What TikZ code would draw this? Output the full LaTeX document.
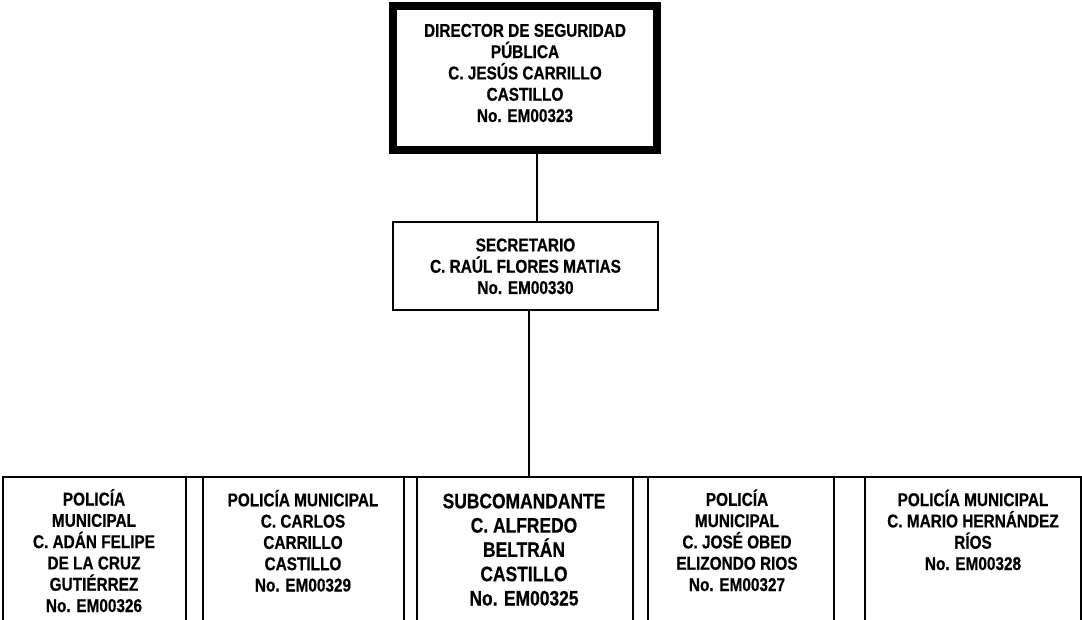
\documentclass[tikz,border=0pt]{standalone}
\usepackage{fontspec}
\setmainfont{Liberation Sans}[FakeStretch=0.83,BoldFeatures={FakeBold=0.6}]
\begin{document}
\begin{tikzpicture}[x=1pt,y=-1pt,
  box/.style={draw=black, line width=1.6pt, outer sep=0pt, inner sep=0pt},
  txt/.style={align=center, inner sep=0pt, font=\bfseries\fontsize{18.5}{21.3}\selectfont},
  bigtxt/.style={align=center, inner sep=0pt, font=\bfseries\fontsize{21}{24.3}\selectfont},
  conn/.style={draw=black, line width=1.5pt}]
\useasboundingbox (0,0) rectangle (1082,620);
% top
\node[box, line width=8pt, outer sep=4pt, minimum width=264pt, minimum height=144pt] (dir) at (525,78) {};
\node[txt, anchor=base] (dirt) at (525,122) {DIRECTOR DE SEGURIDAD\\PÚBLICA\\C. JESÚS CARRILLO\\CASTILLO\\No. EM00323};
% secretary
\node[box, line width=1.6pt, outer sep=0.8pt, minimum width=265pt, minimum height=88pt] (sec) at (525.5,266) {};
\node[txt, anchor=base] (sect) at (525.5,294) {SECRETARIO\\C. RAÚL FLORES MATIAS\\No. EM00330};
% bottom row
\node[box, minimum width=183pt, minimum height=223pt] (b1) at (94.5,588.5) {};
\node[box, minimum width=201pt, minimum height=223pt] (b2) at (303.5,588.5) {};
\node[box, minimum width=216pt, minimum height=223pt] (b3) at (525,588.5) {};
\node[box, minimum width=186pt, minimum height=223pt] (b4) at (741,588.5) {};
\node[box, minimum width=216pt, minimum height=223pt] (b5) at (973,588.5) {};
\draw[box] (b1.north west) -- (b5.north east);
\node[txt, anchor=base] (t1) at (94,612) {POLICÍA\\MUNICIPAL\\C. ADÁN FELIPE\\DE LA CRUZ\\GUTIÉRREZ\\No. EM00326};
\node[txt, anchor=base] (t2) at (303,591.5) {POLICÍA MUNICIPAL\\C. CARLOS\\CARRILLO\\CASTILLO\\No. EM00329};
\node[bigtxt, anchor=base] (t3) at (524,605.5) {SUBCOMANDANTE\\C. ALFREDO\\BELTRÁN\\CASTILLO\\No. EM00325};
\node[txt, anchor=base] (t4) at (737,591) {POLICÍA\\MUNICIPAL\\C. JOSÉ OBED\\ELIZONDO RIOS\\No. EM00327};
\node[txt, anchor=base] (t5) at (973,570) {POLICÍA MUNICIPAL\\C. MARIO HERNÁNDEZ\\RÍOS\\No. EM00328};
% connectors
\draw[conn] ([xshift=12pt]dir.south) -- ([xshift=12pt]dir.south |- sec.north);
\draw[conn] ([xshift=3.5pt]sec.south) -- ([xshift=3.5pt]sec.south |- b3.north);
\end{tikzpicture}
\end{document}
